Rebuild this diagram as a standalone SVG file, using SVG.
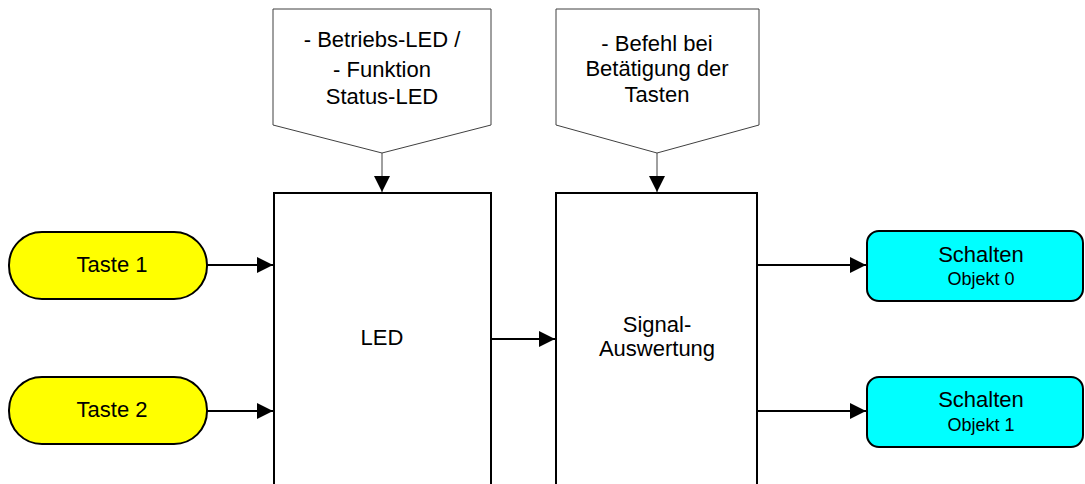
<svg xmlns="http://www.w3.org/2000/svg" width="1085" height="484" viewBox="0 0 1085 484">
<style>
text{font-family:"Liberation Sans",Arial,sans-serif;fill:#000;text-anchor:middle}
.t{font-size:22px}
.s{font-size:18px}
.callout{fill:#fff;stroke:#404040;stroke-width:1}
.box{fill:#fff;stroke:#000;stroke-width:2}
.in{fill:#ffff00;stroke:#000;stroke-width:2}
.out{fill:#00ffff;stroke:#000;stroke-width:2}
.c{stroke:#000;stroke-width:2;fill:none;marker-end:url(#ah)}
.c1{stroke:#404040;stroke-width:1;fill:none;marker-end:url(#ah)}
</style>
<defs>
<marker id="ah" viewBox="0 0 10 10" refX="10" refY="5" markerWidth="16" markerHeight="16" markerUnits="userSpaceOnUse" orient="auto">
<path d="M0,0 L10,5 L0,10 z" fill="#000"/>
</marker>
</defs>
<g id="callout1">
<path class="callout" d="M273,9 H491 V125 L382,153 L273,125 Z"/>
<text class="t" x="382" y="47">- Betriebs-LED /</text>
<text class="t" x="382" y="77">- Funktion</text>
<text class="t" x="382" y="104">Status-LED</text>
</g>
<g id="callout2">
<path class="callout" d="M556,9 H759 V125 L657,153 L556,125 Z"/>
<text class="t" x="657" y="51">- Befehl bei</text>
<text class="t" x="657" y="76">Betätigung der</text>
<text class="t" x="657" y="102">Tasten</text>
</g>
<g id="led">
<rect class="box" x="274" y="193" width="217" height="300"/>
<text class="t" x="382" y="345">LED</text>
</g>
<g id="signal">
<rect class="box" x="556" y="193" width="201" height="300"/>
<text class="t" x="657" y="332">Signal-</text>
<text class="t" x="657" y="356">Auswertung</text>
</g>
<g id="taste1">
<rect class="in" x="9" y="232" width="198" height="67" rx="33" ry="33"/>
<text class="t" x="112" y="272">Taste 1</text>
</g>
<g id="taste2">
<rect class="in" x="9" y="377" width="198" height="67" rx="33" ry="33"/>
<text class="t" x="112" y="417">Taste 2</text>
</g>
<g id="schalten0">
<rect class="out" x="867" y="231" width="216" height="70" rx="12" ry="12"/>
<text class="t" x="981" y="262">Schalten</text>
<text class="s" x="981" y="285">Objekt 0</text>
</g>
<g id="schalten1">
<rect class="out" x="867" y="377" width="216" height="70" rx="12" ry="12"/>
<text class="t" x="981" y="407">Schalten</text>
<text class="s" x="981" y="431">Objekt 1</text>
</g>
<g id="connectors">
<line class="c1" x1="382" y1="153" x2="382" y2="192"/>
<line class="c1" x1="657" y1="153" x2="657" y2="192"/>
<line class="c" x1="207" y1="265" x2="273" y2="265"/>
<line class="c" x1="207" y1="411" x2="273" y2="411"/>
<line class="c" x1="491" y1="339" x2="555" y2="339"/>
<line class="c" x1="757" y1="265" x2="866" y2="265"/>
<line class="c" x1="757" y1="411" x2="866" y2="411"/>
</g>
</svg>
